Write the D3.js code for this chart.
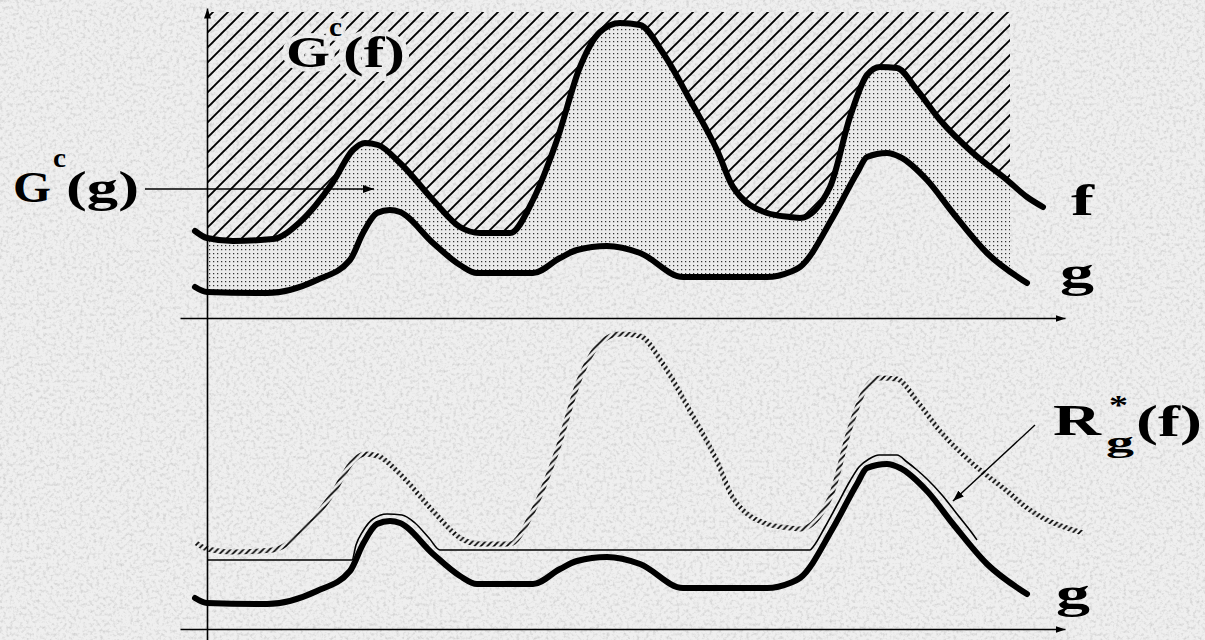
<!DOCTYPE html>
<html lang="en">
<head>
<meta charset="UTF-8">
<title>Reconstruction by erosion</title>
<script src="https://d3js.org/d3.v7.min.js"></script>
<style>
  body { margin: 0; background: #eaeaea; }
  svg { display: block; }
  .lbl { font-family: "Liberation Serif", "Times New Roman", serif; font-weight: bold; fill: #000; }
</style>
</head>
<body>
<script>
// x measured from the vertical axis, values measured up from the x axis
const fX = [-12, 0, 26, 66, 93, 126, 146, 158, 171, 193, 226, 253, 273, 303, 326, 350, 373, 393, 413, 433,
            456, 483, 510, 526, 560, 583, 593, 623, 643, 660, 673, 690, 710, 733, 766, 800, 820, 836, 876];
const fV = [87, 80, 77, 79, 96, 136, 168, 175, 173, 155, 118, 91, 85, 85, 118, 178, 251, 286, 295, 293,
            265, 218, 168, 131, 105, 101, 100, 131, 201, 243, 251, 250, 228, 198, 165, 138, 121, 111, 96];

const gX = [-12, 0, 60, 110, 143, 156, 170, 183, 193, 226, 253, 270, 326, 353, 370, 400, 433, 476, 560, 583,
            593, 626, 650, 660, 680, 693, 720, 746, 780, 820];
const gV = [31, 26, 25, 38, 58, 85, 105, 108, 106, 75, 53, 45, 45, 60, 68, 72, 65, 41, 41, 46,
            51, 101, 145, 161, 165, 161, 138, 105, 65, 35];

// reconstruction R*g(f)
const rX = [0, 145, 149, 156, 166, 180, 195, 208, 222, 233, 603, 606, 618, 630, 643, 652, 662, 672, 690, 700,
            710, 720, 735, 750, 765, 770];
const rV = [69, 69, 84, 98, 110, 115, 114, 106, 91, 79, 79, 82, 102, 124, 148, 162, 170, 174, 174, 167,
            159, 150, 134, 115, 96, 89];

const xDomain = [-27, 858];
const vMax = 308;
const hatchTop = 306;   // top of the G^c(f) region
const fillEnd = 803;    // shaded regions stop here
const fTopEnd = 836;    // upper f curve stops here

const W = 1205, H = 640;
const svg = d3.select("body").append("svg").attr("width", W).attr("height", H);
const defs = svg.append("defs");

// grainy grey backdrop
const flt = defs.append("filter").attr("id", "grain")
  .attr("x", 0).attr("y", 0).attr("width", 1).attr("height", 1);
flt.append("feTurbulence").attr("type", "fractalNoise").attr("baseFrequency", 0.3)
  .attr("numOctaves", 3).attr("seed", 5).attr("result", "n");
flt.append("feColorMatrix").attr("in", "n").attr("type", "matrix")
  .attr("values", "0 0 0 0 0.62  0 0 0 0 0.62  0 0 0 0 0.62  2.2 0 0 0 -1.0").attr("result", "spots");
const fm = flt.append("feMerge");
fm.append("feMergeNode").attr("in", "SourceGraphic");
fm.append("feMergeNode").attr("in", "spots");
svg.append("rect").attr("width", W).attr("height", H).attr("fill", "#efefef").attr("filter", "url(#grain)");

function hatch(id, s, w, color) {
  const p = defs.append("pattern").attr("id", id).attr("patternUnits", "userSpaceOnUse")
    .attr("width", s).attr("height", s);
  p.append("path")
    .attr("d", `M${-s / 4},${s / 4}L${s / 4},${-s / 4}M0,${s}L${s},0M${s * 3 / 4},${s * 5 / 4}L${s * 5 / 4},${s * 3 / 4}`)
    .attr("stroke", color).attr("stroke-width", w);
}
hatch("wide", 15, 1.9, "#000");
hatch("fine", 6.5, 1.7, "#000");

const dots = defs.append("pattern").attr("id", "dots").attr("patternUnits", "userSpaceOnUse")
  .attr("width", 4).attr("height", 4);
dots.append("rect").attr("width", 4).attr("height", 4).attr("fill", "#ebebeb");
dots.append("rect").attr("x", 1).attr("y", 1).attr("width", 1.25).attr("height", 1.25).attr("fill", "#333");

function arrowMarker(id, orient, len, half) {
  defs.append("marker").attr("id", id).attr("markerUnits", "userSpaceOnUse")
    .attr("viewBox", `0 ${-half} ${len} ${half * 2}`).attr("refX", len).attr("refY", 0)
    .attr("markerWidth", len).attr("markerHeight", half * 2).attr("orient", orient)
    .append("path").attr("d", `M0,${-half}L${len},0L0,${half}Z`).attr("fill", "#000");
}
arrowMarker("axRight", "0", 10, 3.5);
arrowMarker("axUp", "-90", 10, 3.5);
arrowMarker("lblArrow", "auto", 11, 4);

const x = d3.scaleLinear().domain(xDomain).range([180, 1065]);
const yTop = d3.scaleLinear().domain([0, vMax]).range([318, 10]);
const yBot = d3.scaleLinear().domain([0, vMax]).range([629, 321]);

const fData = fX.map((d, i) => ({ x: d, v: fV[i] }));
const gData = gX.map((d, i) => ({ x: d, v: gV[i] }));
const rData = rX.map((d, i) => ({ x: d, v: rV[i] }));

const curve = d3.curveMonotoneX;
const lineOn = y => d3.line().x(d => x(d.x)).y(d => y(d.v)).curve(curve);

// clip regions
defs.append("clipPath").attr("id", "panel").append("rect")
  .attr("x", x(0)).attr("y", 0).attr("width", x(fillEnd) - x(0)).attr("height", yTop(0));
defs.append("clipPath").attr("id", "aboveG").append("path")
  .attr("d", d3.area().x(d => x(d.x)).y0(0).y1(d => yTop(d.v)).curve(curve)(gData));

// G^c(f) label, drawn both as a mask cut-out and as text
function gcfLabel(sel, halo) {
  const t = (s, xx, yy, size, len) => {
    const e = sel.append("text").attr("class", "lbl").attr("x", xx).attr("y", yy)
      .attr("font-size", size).attr("textLength", len).attr("lengthAdjust", "spacingAndGlyphs").text(s);
    if (halo) e.attr("stroke", "#000").attr("stroke-width", halo).attr("stroke-linejoin", "round");
  };
  t("G", 286, 67, 45, 44);
  t("c", 329, 36, 27, 13);
  t("(f)", 343, 67, 45, 62);
}
const mask = defs.append("mask").attr("id", "lblMask").attr("maskUnits", "userSpaceOnUse")
  .attr("x", 0).attr("y", 0).attr("width", W).attr("height", H);
mask.append("rect").attr("width", W).attr("height", H).attr("fill", "#fff");
gcfLabel(mask, 10);

// upper panel: G^c(f) hatched, G^c(g) \ G^c(f) dotted
const shade = svg.append("g").attr("clip-path", "url(#panel)");
shade.append("path")
  .attr("d", d3.area().x(d => x(d.x)).y0(yTop(hatchTop)).y1(d => yTop(d.v)).curve(curve)(fData))
  .attr("fill", "url(#wide)").attr("mask", "url(#lblMask)");
shade.append("path")
  .attr("d", d3.area().x(d => x(d.x)).y0(yTop(0)).y1(d => yTop(d.v)).curve(curve)(fData))
  .attr("fill", "url(#dots)").attr("clip-path", "url(#aboveG)");

svg.append("path").attr("d", lineOn(yTop)(fData.filter(d => d.x <= fTopEnd)))
  .attr("fill", "none").attr("stroke", "#000").attr("stroke-width", 6)
  .attr("stroke-linecap", "round").attr("stroke-linejoin", "round");
svg.append("path").attr("d", lineOn(yTop)(gData))
  .attr("fill", "none").attr("stroke", "#000").attr("stroke-width", 6)
  .attr("stroke-linecap", "round").attr("stroke-linejoin", "round");

// lower panel: f as hatched stroke, g thick, reconstruction thin
svg.append("path").attr("d", lineOn(yBot)(fData))
  .attr("fill", "none").attr("stroke", "url(#fine)").attr("stroke-width", 5);
svg.append("path").attr("d", lineOn(yBot)(gData))
  .attr("fill", "none").attr("stroke", "#000").attr("stroke-width", 6)
  .attr("stroke-linecap", "round").attr("stroke-linejoin", "round");
svg.append("path").attr("d", lineOn(yBot)(rData))
  .attr("fill", "none").attr("stroke", "#000").attr("stroke-width", 1.6);

// axes
[yTop, yBot].forEach(y => {
  svg.append("g").attr("transform", `translate(0,${y(0)})`)
    .call(d3.axisBottom(x).tickValues([]).tickSizeOuter(0))
    .call(g => g.select(".domain").attr("stroke-width", 1.6).attr("marker-end", "url(#axRight)"));
});
const yAxisScale = d3.scaleLinear().domain([yBot.invert(H), yTop.invert(8)]).range([H, 8]);
svg.append("g").attr("transform", `translate(${x(0)},0)`)
  .call(d3.axisLeft(yAxisScale).tickValues([]).tickSizeOuter(0))
  .call(g => g.select(".domain").attr("stroke-width", 1.6).attr("marker-end", "url(#axUp)"));

// labels
gcfLabel(svg, 0);
function label(s, xx, yy, size, len) {
  svg.append("text").attr("class", "lbl").attr("x", xx).attr("y", yy).attr("font-size", size)
    .attr("textLength", len).attr("lengthAdjust", "spacingAndGlyphs").text(s);
}
label("G", 13, 202, 44, 38);
label("c", 53, 167, 27, 13);
label("(g)", 66, 202, 44, 73);
label("f", 1071, 215, 44, 23);
label("g", 1060, 287, 44, 34);
label("g", 1056, 608, 44, 34);
label("R", 1053, 435, 44, 48);
label("*", 1109, 414, 28, 19);
label("g", 1106, 452, 30, 28);
label("(f)", 1136, 436, 44, 66);

svg.append("line").attr("x1", 145).attr("y1", 189).attr("x2", 374).attr("y2", 189)
  .attr("stroke", "#000").attr("stroke-width", 1.4).attr("marker-end", "url(#lblArrow)");
svg.append("line").attr("x1", 1035).attr("y1", 425).attr("x2", 953).attr("y2", 501)
  .attr("stroke", "#000").attr("stroke-width", 1.4).attr("marker-end", "url(#lblArrow)");
</script>
</body>
</html>
